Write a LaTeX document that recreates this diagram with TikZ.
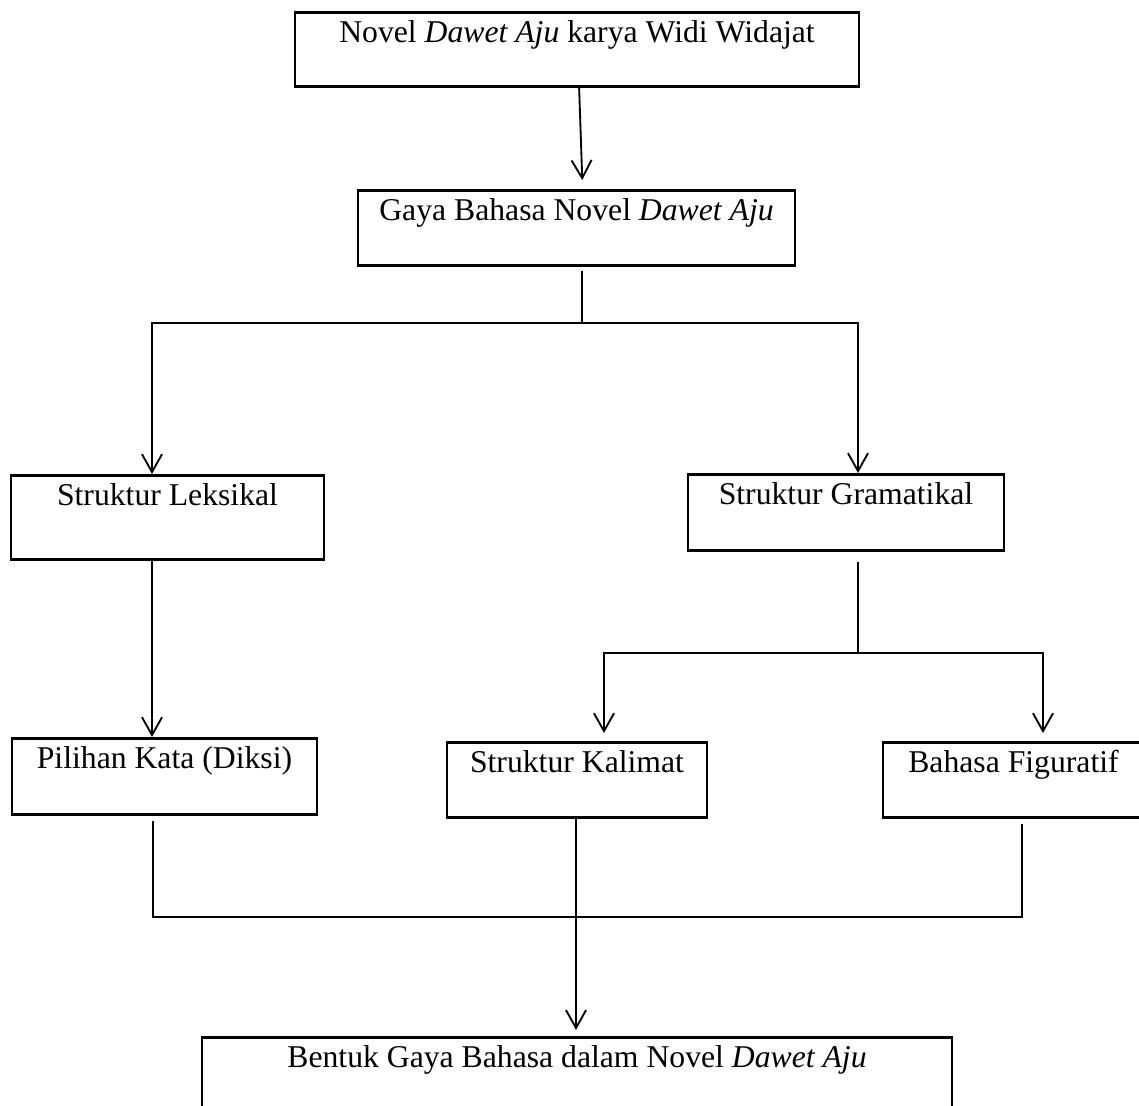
\documentclass[tikz,border=0pt]{standalone}
\usepackage{fontspec}
\setmainfont{Liberation Serif}
\usetikzlibrary{arrows.meta}
\newcommand{\skala}{0.0133cm}
\tikzset{
  kotak/.style={draw, line width=1pt, anchor=north, inner xsep=0pt, inner ysep=0pt,
    text height=11.4pt, text depth=17pt, font=\fontsize{12}{14}\selectfont},
  panah/.style={-{Straight Barb[length=6.8pt,width=7.6pt]}, line width=0.7pt},
  garis/.style={line width=0.6pt}
}
\begin{document}
\begin{tikzpicture}[x=\skala, y=-\skala]
\useasboundingbox (0,0) rectangle (1139,1106);
\clip (0,0) rectangle (1139,1106);
	%Kotak
	\node[kotak, minimum width=564*\skala, text depth=16.6pt] (novel) at (577,11) {Novel \textit{Dawet Aju} karya Widi Widajat};
	\node[kotak, minimum width=437*\skala] (gaya) at (576.5,189) {Gaya Bahasa Novel \textit{Dawet Aju}};
	\node[kotak, minimum width=313*\skala, text depth=20.4pt] (leksikal) at (167.5,474) {Struktur Leksikal};
	\node[kotak, minimum width=316*\skala, text depth=17.4pt] (gramatikal) at (846,473) {Struktur Gramatikal};
	\node[kotak, minimum width=305*\skala, text depth=17.4pt] (pilihan) at (164.5,737) {Pilihan Kata (Diksi)};
	\node[kotak, minimum width=260*\skala] (kalimat) at (577,741) {Struktur Kalimat};
	\node[kotak, minimum width=261*\skala] (figuratif) at (1013.5,741) {Bahasa Figuratif};
	\node[kotak, minimum width=750*\skala, text depth=34pt] (bentuk) at (577,1036) {Bentuk Gaya Bahasa dalam Novel \textit{Dawet Aju}};
	%Titik cabang
	\coordinate (cabang1) at (582,323);
	\coordinate (kiri) at (152,323);
	\coordinate (kanan) at (858,323);
	\coordinate (cabang2) at (858,653);
	\coordinate (kekalimat) at (604,653);
	\coordinate (kefiguratif) at (1043,653);
	\coordinate (kiribawah) at (153,917);
	\coordinate (gabung) at (576,917);
	\coordinate (kananbawah) at (1022,917);
	%Panah dan garis
	\draw[panah, shorten >=3.4pt] ([xshift=0.8pt]novel.south) -- ([xshift=2.3pt]gaya.north);
	\draw[garis, shorten <=1.5pt] (cabang1 |- gaya.south) -- (cabang1);
	\draw[panah] (cabang1) -| (kiri |- leksikal.north);
	\draw[panah] (cabang1) -| (kanan |- gramatikal.north);
	\draw[panah] (kiri |- leksikal.south) -- (kiri |- pilihan.north);
	\draw[garis, shorten <=3.8pt] (cabang2 |- gramatikal.south) -- (cabang2);
	\draw[panah, shorten >=3pt] (cabang2) -| (kekalimat |- kalimat.north);
	\draw[panah, shorten >=3pt] (cabang2) -| (kefiguratif |- figuratif.north);
	\draw[garis, shorten <=2pt] (kiribawah |- pilihan.south) |- (gabung);
	\draw[garis, shorten <=2pt] (kananbawah |- figuratif.south) |- (gabung);
	\draw[panah, shorten >=2.3pt] (gabung |- kalimat.south) -- (gabung |- bentuk.north);
\end{tikzpicture}
\end{document}
